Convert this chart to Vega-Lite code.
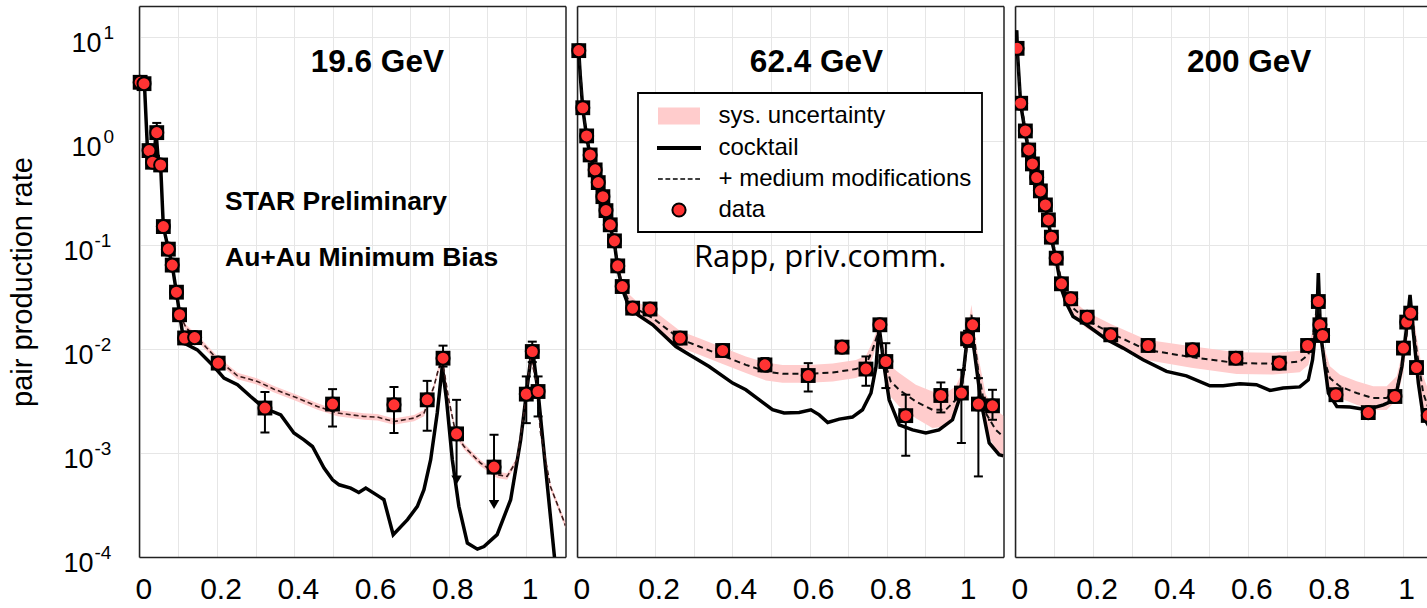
{
"$schema": "https://vega.github.io/schema/vega-lite/v6.json",
"background": "#ffffff",
"padding": {"left": 8, "top": 5, "right": 0, "bottom": 0},
"config": {
  "view": {"stroke": null},
  "font": "Liberation Sans",
  "axis": {"labelFont": "Liberation Sans", "labelColor": "#000000", "tickColor": "#222222", "tickWidth": 1.5, "domainColor": "#222222", "domainWidth": 1.5, "gridColor": "#e6e6e6", "gridWidth": 1, "labelOverlap": false, "labelFlush": false, "labelBound": false, "minExtent": 0}
},
"datasets": {
  "p1_cocktail": [{"x":0.001,"y":3.7},{"x":0.012,"y":3.6},{"x":0.02,"y":0.82},{"x":0.028,"y":0.64},{"x":0.037,"y":0.66},{"x":0.042,"y":1.25},{"x":0.047,"y":0.72},{"x":0.054,"y":0.59},{"x":0.061,"y":0.15},{"x":0.074,"y":0.092},{"x":0.084,"y":0.064},{"x":0.095,"y":0.035},{"x":0.1035,"y":0.0214},{"x":0.1146,"y":0.01143},{"x":0.149,"y":0.00984},{"x":0.192,"y":0.0068},{"x":0.218,"y":0.00526},{"x":0.253,"y":0.00454},{"x":0.287,"y":0.0035},{"x":0.322,"y":0.00271},{"x":0.365,"y":0.00233},{"x":0.399,"y":0.00156},{"x":0.425,"y":0.00134},{"x":0.447,"y":0.001156},{"x":0.477,"y":0.000718},{"x":0.499,"y":0.000553},{"x":0.516,"y":0.000495},{"x":0.546,"y":0.00046},{"x":0.567,"y":0.000418},{"x":0.585,"y":0.00046},{"x":0.619,"y":0.000383},{"x":0.632,"y":0.000356},{"x":0.656,"y":0.000164},{"x":0.693,"y":0.000229},{"x":0.7185,"y":0.000307},{"x":0.7356,"y":0.000444},{"x":0.753,"y":0.000863},{"x":0.77,"y":0.00243},{"x":0.783,"y":0.0068},{"x":0.794,"y":0.00325},{"x":0.809,"y":0.000863},{"x":0.826,"y":0.000307},{"x":0.848,"y":0.000136},{"x":0.874,"y":0.000119},{"x":0.891,"y":0.000126},{"x":0.925,"y":0.000164},{"x":0.96,"y":0.000356},{"x":0.986,"y":0.00134},{"x":1.003,"y":0.00437},{"x":1.016,"y":0.0106},{"x":1.033,"y":0.00325},{"x":1.05,"y":0.000744},{"x":1.074,"y":0.0000955}],
  "p1_medium": [{"x":0.104,"y":0.0214,"lo":0.0199,"hi":0.0229},{"x":0.12,"y":0.016,"lo":0.01488,"hi":0.01712},{"x":0.149,"y":0.0128,"lo":0.0119,"hi":0.0137},{"x":0.2025,"y":0.00789,"lo":0.00734,"hi":0.00844},{"x":0.253,"y":0.00553,"lo":0.00514,"hi":0.00592},{"x":0.3045,"y":0.00489,"lo":0.00455,"hi":0.00523},{"x":0.3475,"y":0.00412,"lo":0.00383,"hi":0.00441},{"x":0.408,"y":0.00338,"lo":0.00314,"hi":0.00362},{"x":0.46,"y":0.00281,"lo":0.00261,"hi":0.00301},{"x":0.5115,"y":0.00243,"lo":0.00226,"hi":0.0026},{"x":0.58,"y":0.00225,"lo":0.00209,"hi":0.00241},{"x":0.615,"y":0.00222,"lo":0.00206,"hi":0.00238},{"x":0.658,"y":0.00201,"lo":0.00187,"hi":0.00215},{"x":0.71,"y":0.00217,"lo":0.00202,"hi":0.00232},{"x":0.736,"y":0.00243,"lo":0.00226,"hi":0.0026},{"x":0.7615,"y":0.00437,"lo":0.00406,"hi":0.00468},{"x":0.772,"y":0.0062,"lo":0.00577,"hi":0.00663},{"x":0.783,"y":0.00789,"lo":0.00734,"hi":0.00844},{"x":0.8,"y":0.00325,"lo":0.00302,"hi":0.00348},{"x":0.8176,"y":0.00156,"lo":0.00145,"hi":0.00167},{"x":0.839,"y":0.00116,"lo":0.00108,"hi":0.00124},{"x":0.882,"y":0.000802,"lo":0.000746,"hi":0.000858},{"x":0.925,"y":0.000618,"lo":0.000575,"hi":0.000661},{"x":0.951,"y":0.000596,"lo":0.000554,"hi":0.000638},{"x":0.977,"y":0.000863,"lo":0.000803,"hi":0.000923},{"x":0.999,"y":0.00325,"lo":0.00302,"hi":0.00348},{"x":1.012,"y":0.0085,"lo":0.0079,"hi":0.0091},{"x":1.025,"y":0.00507,"lo":0.00472,"hi":0.00542},{"x":1.0375,"y":0.00156,"lo":0.00145,"hi":0.00167},{"x":1.063,"y":0.000477,"lo":0.000444,"hi":0.00051},{"x":1.098,"y":0.00022,"lo":0.000205,"hi":0.000235},{"x":1.102,"y":0.0002,"lo":0.000186,"hi":0.000214}],
  "p1_data": [{"x":0.001,"y":3.69,"lo":3.5,"hi":3.9,"ul":0},{"x":0.011,"y":3.58,"lo":3.4,"hi":3.8,"ul":0},{"x":0.024,"y":0.813,"lo":0.75,"hi":0.88,"ul":0},{"x":0.033,"y":0.628,"lo":0.58,"hi":0.68,"ul":0},{"x":0.044,"y":1.21,"lo":1.1,"hi":1.5,"ul":0},{"x":0.054,"y":0.591,"lo":0.55,"hi":0.64,"ul":0},{"x":0.061,"y":0.151,"lo":0.14,"hi":0.163,"ul":0},{"x":0.074,"y":0.0916,"lo":0.085,"hi":0.099,"ul":0},{"x":0.084,"y":0.0643,"lo":0.059,"hi":0.07,"ul":0},{"x":0.095,"y":0.0353,"lo":0.032,"hi":0.039,"ul":0},{"x":0.103,"y":0.0214,"lo":0.0196,"hi":0.0234,"ul":0},{"x":0.116,"y":0.0128,"lo":0.0116,"hi":0.014,"ul":0},{"x":0.142,"y":0.0129,"lo":0.0117,"hi":0.0142,"ul":0},{"x":0.203,"y":0.00733,"lo":0.0067,"hi":0.008,"ul":0},{"x":0.324,"y":0.00271,"lo":0.00158,"hi":0.00386,"ul":0},{"x":0.499,"y":0.00296,"lo":0.0018,"hi":0.00412,"ul":0},{"x":0.658,"y":0.00291,"lo":0.00156,"hi":0.00433,"ul":0},{"x":0.744,"y":0.00325,"lo":0.00164,"hi":0.00495,"ul":0},{"x":0.785,"y":0.00818,"lo":0.0068,"hi":0.0108,"ul":0},{"x":0.82,"y":0.00153,"lo":0.00055,"hi":0.00325,"ul":1},{"x":0.917,"y":0.000733,"lo":0.00032,"hi":0.0015,"ul":1},{"x":1.0005,"y":0.00369,"lo":0.00194,"hi":0.00546,"ul":0},{"x":1.016,"y":0.00948,"lo":0.0075,"hi":0.0118,"ul":0},{"x":1.031,"y":0.00391,"lo":0.00225,"hi":0.00546,"ul":0}],
  "p2_cocktail": [{"x":0.0026,"y":7.44},{"x":0.006,"y":4.5},{"x":0.013,"y":2.05},{"x":0.023,"y":1.1},{"x":0.032,"y":0.72},{"x":0.045,"y":0.51},{"x":0.053,"y":0.385},{"x":0.065,"y":0.28},{"x":0.073,"y":0.205},{"x":0.084,"y":0.15},{"x":0.095,"y":0.104},{"x":0.1035,"y":0.06},{"x":0.115,"y":0.038},{"x":0.13,"y":0.027},{"x":0.155,"y":0.0214},{"x":0.194,"y":0.01714},{"x":0.254,"y":0.0106},{"x":0.289,"y":0.00881},{"x":0.34,"y":0.0068},{"x":0.401,"y":0.00471},{"x":0.435,"y":0.00406},{"x":0.47,"y":0.00325},{"x":0.504,"y":0.00261},{"x":0.534,"y":0.00243},{"x":0.573,"y":0.00246},{"x":0.6035,"y":0.00261},{"x":0.625,"y":0.00233},{"x":0.647,"y":0.00197},{"x":0.677,"y":0.00212},{"x":0.711,"y":0.00222},{"x":0.737,"y":0.00261},{"x":0.759,"y":0.00378},{"x":0.772,"y":0.0068},{"x":0.78,"y":0.0165},{"x":0.793,"y":0.0068},{"x":0.806,"y":0.00325},{"x":0.832,"y":0.00187},{"x":0.8665,"y":0.00167},{"x":0.901,"y":0.00156},{"x":0.935,"y":0.00167},{"x":0.97,"y":0.00209},{"x":0.987,"y":0.00325},{"x":1.0,"y":0.0068},{"x":1.013,"y":0.0191},{"x":1.026,"y":0.00984},{"x":1.043,"y":0.00325},{"x":1.065,"y":0.00125},{"x":1.0905,"y":0.000964},{"x":1.102,"y":0.00094}],
  "p2_medium": [{"x":0.0026,"y":7.6,"lo":6.61,"hi":8.74},{"x":0.013,"y":2.15,"lo":1.87,"hi":2.47},{"x":0.023,"y":1.15,"lo":1.0,"hi":1.32},{"x":0.032,"y":0.75,"lo":0.652,"hi":0.8625},{"x":0.045,"y":0.53,"lo":0.461,"hi":0.61},{"x":0.053,"y":0.4,"lo":0.348,"hi":0.46},{"x":0.065,"y":0.29,"lo":0.252,"hi":0.334},{"x":0.073,"y":0.215,"lo":0.187,"hi":0.247},{"x":0.084,"y":0.157,"lo":0.1365,"hi":0.1806},{"x":0.095,"y":0.11,"lo":0.0957,"hi":0.1265},{"x":0.1035,"y":0.064,"lo":0.0557,"hi":0.0736},{"x":0.115,"y":0.041,"lo":0.0357,"hi":0.0472},{"x":0.13,"y":0.03,"lo":0.0261,"hi":0.0345},{"x":0.155,"y":0.024,"lo":0.0203,"hi":0.0283},{"x":0.194,"y":0.0199,"lo":0.01658,"hi":0.02388},{"x":0.265,"y":0.01247,"lo":0.01039,"hi":0.01496},{"x":0.3145,"y":0.0106,"lo":0.00883,"hi":0.01272},{"x":0.375,"y":0.00863,"lo":0.00719,"hi":0.01036},{"x":0.435,"y":0.00706,"lo":0.00588,"hi":0.00847},{"x":0.487,"y":0.0061,"lo":0.005,"hi":0.00744},{"x":0.53,"y":0.00578,"lo":0.00474,"hi":0.00705},{"x":0.5965,"y":0.00578,"lo":0.00474,"hi":0.00705},{"x":0.66,"y":0.00595,"lo":0.00488,"hi":0.00726},{"x":0.72,"y":0.00643,"lo":0.00527,"hi":0.00784},{"x":0.746,"y":0.00706,"lo":0.00579,"hi":0.00861},{"x":0.763,"y":0.00984,"lo":0.0082,"hi":0.0118},{"x":0.78,"y":0.01535,"lo":0.01335,"hi":0.01765},{"x":0.793,"y":0.00789,"lo":0.00607,"hi":0.01026},{"x":0.81,"y":0.00489,"lo":0.00349,"hi":0.00685},{"x":0.832,"y":0.00406,"lo":0.0028,"hi":0.00589},{"x":0.875,"y":0.00313,"lo":0.00216,"hi":0.00454},{"x":0.918,"y":0.00261,"lo":0.00174,"hi":0.00392},{"x":0.9527,"y":0.00261,"lo":0.0018,"hi":0.00378},{"x":0.9785,"y":0.00325,"lo":0.00241,"hi":0.00439},{"x":0.996,"y":0.00471,"lo":0.00362,"hi":0.00612},{"x":1.009,"y":0.01227,"lo":0.00982,"hi":0.01534},{"x":1.019,"y":0.0214,"lo":0.01712,"hi":0.02675},{"x":1.035,"y":0.0068,"lo":0.00504,"hi":0.00918},{"x":1.056,"y":0.00243,"lo":0.00162,"hi":0.00365},{"x":1.082,"y":0.00167,"lo":0.00108,"hi":0.00259},{"x":1.102,"y":0.00143,"lo":0.000894,"hi":0.00229}],
  "p2_data": [{"x":0.0026,"y":7.44,"lo":6.9,"hi":8.0},{"x":0.013,"y":2.1,"lo":1.95,"hi":2.26},{"x":0.023,"y":1.125,"lo":1.05,"hi":1.2},{"x":0.032,"y":0.738,"lo":0.69,"hi":0.79},{"x":0.045,"y":0.53,"lo":0.495,"hi":0.567},{"x":0.053,"y":0.4,"lo":0.374,"hi":0.428},{"x":0.065,"y":0.293,"lo":0.274,"hi":0.313},{"x":0.073,"y":0.215,"lo":0.2,"hi":0.23},{"x":0.084,"y":0.157,"lo":0.146,"hi":0.168},{"x":0.095,"y":0.11,"lo":0.102,"hi":0.118},{"x":0.1035,"y":0.0632,"lo":0.058,"hi":0.068},{"x":0.115,"y":0.04,"lo":0.037,"hi":0.043},{"x":0.142,"y":0.0248,"lo":0.0228,"hi":0.027},{"x":0.187,"y":0.0243,"lo":0.0222,"hi":0.0268},{"x":0.265,"y":0.01277,"lo":0.0114,"hi":0.0143},{"x":0.375,"y":0.0097,"lo":0.0086,"hi":0.011},{"x":0.4845,"y":0.00705,"lo":0.0061,"hi":0.0082},{"x":0.5965,"y":0.00557,"lo":0.00391,"hi":0.00733},{"x":0.684,"y":0.01045,"lo":0.0094,"hi":0.0116},{"x":0.746,"y":0.00643,"lo":0.00444,"hi":0.0085},{"x":0.782,"y":0.01714,"lo":0.0152,"hi":0.0195},{"x":0.7975,"y":0.0076,"lo":0.00422,"hi":0.0114},{"x":0.849,"y":0.00229,"lo":0.000942,"hi":0.00364},{"x":0.9398,"y":0.00358,"lo":0.00246,"hi":0.00478},{"x":0.993,"y":0.00378,"lo":0.00125,"hi":0.00632},{"x":1.009,"y":0.01256,"lo":0.0105,"hi":0.015},{"x":1.022,"y":0.01714,"lo":0.0152,"hi":0.0195},{"x":1.037,"y":0.00296,"lo":0.000596,"hi":0.00526},{"x":1.0735,"y":0.00285,"lo":0.00209,"hi":0.00406}],
  "p3_cocktail": [{"x":0.001,"y":9.0},{"x":0.0025,"y":11.7},{"x":0.0045,"y":7.0},{"x":0.0127,"y":2.25},{"x":0.0248,"y":1.2},{"x":0.0334,"y":0.8},{"x":0.043,"y":0.58},{"x":0.054,"y":0.43},{"x":0.0636,"y":0.32},{"x":0.0766,"y":0.235},{"x":0.0843,"y":0.168},{"x":0.092,"y":0.115},{"x":0.1045,"y":0.072},{"x":0.118,"y":0.038},{"x":0.13,"y":0.028},{"x":0.148,"y":0.0206},{"x":0.1826,"y":0.01714},{"x":0.234,"y":0.01247},{"x":0.2775,"y":0.01023},{"x":0.329,"y":0.00789},{"x":0.3896,"y":0.0061},{"x":0.441,"y":0.00553},{"x":0.5016,"y":0.00444},{"x":0.536,"y":0.00444},{"x":0.579,"y":0.00464},{"x":0.622,"y":0.00454},{"x":0.657,"y":0.004},{"x":0.691,"y":0.00423},{"x":0.734,"y":0.00433},{"x":0.756,"y":0.00507},{"x":0.767,"y":0.00789},{"x":0.778,"y":0.0191},{"x":0.782,"y":0.0538},{"x":0.7876,"y":0.01426},{"x":0.799,"y":0.0068},{"x":0.808,"y":0.00378},{"x":0.83,"y":0.0028},{"x":0.8637,"y":0.00278},{"x":0.907,"y":0.00261},{"x":0.95,"y":0.00291},{"x":0.98,"y":0.00325},{"x":0.998,"y":0.0068},{"x":1.0104,"y":0.0165},{"x":1.019,"y":0.0333},{"x":1.0277,"y":0.01426},{"x":1.0405,"y":0.00471},{"x":1.053,"y":0.00225},{"x":1.068,"y":0.0018}],
  "p3_medium": [{"x":0.0034,"y":8.2,"lo":7.32,"hi":9.18},{"x":0.0127,"y":2.45,"lo":2.19,"hi":2.74},{"x":0.0248,"y":1.32,"lo":1.18,"hi":1.48},{"x":0.0334,"y":0.87,"lo":0.777,"hi":0.974},{"x":0.043,"y":0.64,"lo":0.571,"hi":0.717},{"x":0.054,"y":0.47,"lo":0.42,"hi":0.526},{"x":0.0636,"y":0.35,"lo":0.3125,"hi":0.392},{"x":0.0766,"y":0.256,"lo":0.229,"hi":0.287},{"x":0.0843,"y":0.184,"lo":0.164,"hi":0.206},{"x":0.092,"y":0.125,"lo":0.1116,"hi":0.14},{"x":0.1045,"y":0.079,"lo":0.0705,"hi":0.0885},{"x":0.118,"y":0.045,"lo":0.0402,"hi":0.0504},{"x":0.13,"y":0.033,"lo":0.0287,"hi":0.038},{"x":0.148,"y":0.0248,"lo":0.021,"hi":0.0293},{"x":0.1826,"y":0.0191,"lo":0.0159,"hi":0.0229},{"x":0.2455,"y":0.01426,"lo":0.01169,"hi":0.0174},{"x":0.338,"y":0.00984,"lo":0.00787,"hi":0.0123},{"x":0.454,"y":0.00838,"lo":0.0066,"hi":0.01064},{"x":0.571,"y":0.00733,"lo":0.00577,"hi":0.00931},{"x":0.6655,"y":0.00724,"lo":0.0057,"hi":0.0092},{"x":0.734,"y":0.0076,"lo":0.00598,"hi":0.00965},{"x":0.756,"y":0.00881,"lo":0.00705,"hi":0.011},{"x":0.767,"y":0.01227,"lo":0.01023,"hi":0.01472},{"x":0.782,"y":0.0321,"lo":0.02675,"hi":0.0385},{"x":0.795,"y":0.0085,"lo":0.00654,"hi":0.01105},{"x":0.812,"y":0.00526,"lo":0.00405,"hi":0.00684},{"x":0.838,"y":0.00437,"lo":0.00336,"hi":0.00568},{"x":0.881,"y":0.00378,"lo":0.00291,"hi":0.00491},{"x":0.924,"y":0.00338,"lo":0.0026,"hi":0.00439},{"x":0.9586,"y":0.00338,"lo":0.0026,"hi":0.00439},{"x":0.9845,"y":0.00422,"lo":0.00325,"hi":0.00549},{"x":1.002,"y":0.00789,"lo":0.00607,"hi":0.01026},{"x":1.015,"y":0.0191,"lo":0.01528,"hi":0.02388},{"x":1.021,"y":0.0257,"lo":0.02056,"hi":0.0321},{"x":1.036,"y":0.00984,"lo":0.00729,"hi":0.01328},{"x":1.053,"y":0.00378,"lo":0.00261,"hi":0.00548},{"x":1.068,"y":0.00261,"lo":0.00174,"hi":0.00392}],
  "p3_data": [{"x":0.0034,"y":7.83,"lo":7.05,"hi":8.61},{"x":0.0127,"y":2.32,"lo":2.09,"hi":2.55},{"x":0.0248,"y":1.256,"lo":1.13,"hi":1.38},{"x":0.0334,"y":0.824,"lo":0.742,"hi":0.906},{"x":0.043,"y":0.605,"lo":0.545,"hi":0.666},{"x":0.054,"y":0.447,"lo":0.402,"hi":0.492},{"x":0.0636,"y":0.333,"lo":0.3,"hi":0.366},{"x":0.0766,"y":0.244,"lo":0.22,"hi":0.268},{"x":0.0843,"y":0.175,"lo":0.158,"hi":0.193},{"x":0.092,"y":0.1194,"lo":0.107,"hi":0.131},{"x":0.1045,"y":0.075,"lo":0.0675,"hi":0.0825},{"x":0.118,"y":0.0425,"lo":0.0383,"hi":0.0468},{"x":0.142,"y":0.0305,"lo":0.0275,"hi":0.0336},{"x":0.1844,"y":0.0203,"lo":0.0183,"hi":0.0223},{"x":0.2455,"y":0.01372,"lo":0.01235,"hi":0.01509},{"x":0.342,"y":0.01084,"lo":0.00976,"hi":0.01192},{"x":0.4568,"y":0.00984,"lo":0.00886,"hi":0.01082},{"x":0.5688,"y":0.00818,"lo":0.00736,"hi":0.009},{"x":0.681,"y":0.00733,"lo":0.0066,"hi":0.00806},{"x":0.7543,"y":0.01084,"lo":0.00976,"hi":0.01192},{"x":0.782,"y":0.0287,"lo":0.0258,"hi":0.0316},{"x":0.786,"y":0.01714,"lo":0.0154,"hi":0.0189},{"x":0.793,"y":0.01352,"lo":0.0122,"hi":0.0149},{"x":0.8275,"y":0.00364,"lo":0.00328,"hi":0.004},{"x":0.911,"y":0.00245,"lo":0.0022,"hi":0.0027},{"x":0.98,"y":0.0035,"lo":0.00315,"hi":0.00385},{"x":1.002,"y":0.01023,"lo":0.0092,"hi":0.01125},{"x":1.0104,"y":0.0182,"lo":0.0164,"hi":0.02},{"x":1.0207,"y":0.0222,"lo":0.02,"hi":0.0244},{"x":1.0357,"y":0.00665,"lo":0.006,"hi":0.0073},{"x":1.066,"y":0.0023,"lo":0.00207,"hi":0.00253}],
  "p1_title": [{"x":0.615,"y":4.59,"label":"19.6 GeV"}],
  "p1_notes": [{"x":0.2207,"y":0.2185,"label":"STAR Preliminary"},{"x":0.2207,"y":0.0637,"label":"Au+Au Minimum Bias"}],
  "p2_title": [{"x":0.6177,"y":4.59,"label":"62.4 GeV"}],
  "p2_notes": [{"x":0.3008,"y":0.0622,"label":"Rapp, priv.comm."}],
  "p3_title": [{"x":0.603,"y":4.59,"label":"200 GeV"}]
},
"spacing": 11,
"bounds": "flush",
"resolve": {"scale": {"x": "independent", "y": "independent", "color": "independent"}, "legend": {"color": "independent"}},
"hconcat": [
 {
  "width": 426.5, "height": 551,
  "resolve": {"axis": {"x": "independent", "y": "independent"}},
  "layer": [
   {"data": {"name": "p1_medium"}, "mark": {"type": "area", "color": "#ffcccc", "opacity": 1, "clip": true},
    "encoding": {
     "x": {"field": "x", "type": "quantitative", "scale": {"domain": [-0.002, 1.102], "nice": false, "zero": false},
       "axis": {"orient": "bottom", "title": null, "values": [0,0.1,0.2,0.3,0.4,0.5,0.6,0.7,0.8,0.9,1], "labelExpr": "round(datum.value*10)%2==0 ? (datum.value==0 ? '0' : datum.value==1 ? '1' : format(datum.value,'.1f')) : ''", "labelFontSize": 30, "labelBaseline": "alphabetic", "labelPadding": 41, "labelOffset": 3.5, "tickSize": 0, "grid": true,
         "encode": {"ticks": {"update": {"y2": {"signal": "round(datum.value*10)%2==0 ? -9 : -5"}}}, "grid": {"update": {"strokeOpacity": {"signal": "round(datum.value*10)%2==0 && datum.value > 0.01 ? 1 : 0"}}}}}},
     "y": {"field": "lo", "type": "quantitative", "scale": {"type": "log", "domain": [0.0001, 20], "nice": false},
       "axis": {"orient": "left", "values": [0.0001,0.0002,0.0003,0.0004,0.0005,0.0006,0.0007,0.0008,0.0009,0.001,0.002,0.003,0.004,0.005,0.006,0.007,0.008,0.009,0.01,0.02,0.03,0.04,0.05,0.06,0.07,0.08,0.09,0.1,0.2,0.3,0.4,0.5,0.6,0.7,0.8,0.9,1,2,3,4,5,6,7,8,9,10],
         "title": "pair production rate", "titleFont": "Liberation Sans", "titleFontSize": 29, "titleFontWeight": "normal", "titleColor": "#000000", "titlePadding": 33,
         "labelExpr": "datum.value == 1 || datum.value == 10 ? '10' : ''", "labelFontSize": 27, "labelAlign": "right", "labelBaseline": "alphabetic", "labelPadding": 38, "labelOffset": 14.5, "tickSize": 0, "grid": false,
         "encode": {"ticks": {"update": {"x2": {"signal": "indexof([0.0001,0.001,0.01,0.1,1,10], datum.value) >= 0 ? 9 : 5"}}}}}},
     "y2": {"field": "hi"}
    }},
   {"data": {"name": "p1_cocktail"}, "mark": {"type": "line", "color": "#000000", "strokeWidth": 3.5, "clip": true},
    "encoding": {
     "x": {"field": "x", "type": "quantitative",
       "axis": {"orient": "top", "title": null, "values": [0,0.1,0.2,0.3,0.4,0.5,0.6,0.7,0.8,0.9,1], "labels": false, "tickSize": 0, "grid": false,
         "encode": {"ticks": {"update": {"y2": {"signal": "round(datum.value*10)%2==0 ? 9 : 5"}}}}}},
     "y": {"field": "y", "type": "quantitative",
       "axis": {"orient": "left", "title": null, "values": [1, 10], "labelExpr": "datum.value == 10 ? '1' : '0'", "labelFontSize": 19, "labelAlign": "left", "labelBaseline": "alphabetic", "labelPadding": 36, "labelOffset": 1, "ticks": false, "domain": false, "grid": true}}
    }},
   {"data": {"name": "p1_medium"}, "mark": {"type": "line", "color": "#3a1c1c", "strokeWidth": 1.6, "strokeDash": [5, 3], "clip": true},
    "encoding": {
     "x": {"field": "x", "type": "quantitative", "axis": null},
     "y": {"field": "y", "type": "quantitative",
       "axis": {"orient": "right", "title": null, "values": [0.0001,0.0002,0.0003,0.0004,0.0005,0.0006,0.0007,0.0008,0.0009,0.001,0.002,0.003,0.004,0.005,0.006,0.007,0.008,0.009,0.01,0.02,0.03,0.04,0.05,0.06,0.07,0.08,0.09,0.1,0.2,0.3,0.4,0.5,0.6,0.7,0.8,0.9,1,2,3,4,5,6,7,8,9,10], "labels": false, "tickSize": 0, "grid": false,
         "encode": {"ticks": {"update": {"x2": {"signal": "indexof([0.0001,0.001,0.01,0.1,1,10], datum.value) >= 0 ? -9 : -5"}}}}}}
    }},
   {"data": {"name": "p1_data"}, "mark": {"type": "rule", "color": "#000000", "strokeWidth": 2, "clip": true},
    "encoding": {"x": {"field": "x", "type": "quantitative", "axis": null},
     "y": {"field": "lo", "type": "quantitative",
       "axis": {"orient": "left", "title": null, "values": [0.0001, 0.001, 0.01, 0.1], "labelExpr": "'10'", "labelFontSize": 27, "labelAlign": "right", "labelBaseline": "alphabetic", "labelPadding": 46, "labelOffset": 14.5, "ticks": false, "domain": false, "grid": true}},
     "y2": {"field": "hi"}}},
   {"data": {"name": "p1_data"}, "mark": {"type": "tick", "orient": "horizontal", "color": "#000000", "size": 9, "thickness": 2, "opacity": 1},
    "encoding": {"x": {"field": "x", "type": "quantitative", "axis": null},
     "y": {"field": "hi", "type": "quantitative",
       "axis": {"orient": "left", "title": null, "values": [0.0001, 0.001, 0.01, 0.1], "labelExpr": "datum.value == 0.1 ? '-1' : datum.value == 0.01 ? '-2' : datum.value == 0.001 ? '-3' : '-4'", "labelFontSize": 19, "labelAlign": "left", "labelBaseline": "alphabetic", "labelPadding": 45, "labelOffset": 1, "ticks": false, "domain": false, "grid": false}}}},
   {"data": {"name": "p1_data"}, "transform": [{"filter": "datum.ul == 0"}], "mark": {"type": "tick", "orient": "horizontal", "color": "#000000", "size": 9, "thickness": 2, "opacity": 1},
    "encoding": {"x": {"field": "x", "type": "quantitative", "axis": null}, "y": {"field": "lo", "type": "quantitative", "axis": null}}},
   {"data": {"name": "p1_data"}, "transform": [{"filter": "datum.ul == 1"}], "mark": {"type": "point", "shape": "triangle-down", "filled": true, "color": "#000000", "size": 110, "opacity": 1},
    "encoding": {"x": {"field": "x", "type": "quantitative", "axis": null}, "y": {"field": "lo", "type": "quantitative", "axis": null}}},
   {"data": {"name": "p1_data"}, "mark": {"type": "point", "shape": "square", "filled": true, "color": "#000000", "size": 220, "opacity": 1},
    "encoding": {"x": {"field": "x", "type": "quantitative", "axis": null}, "y": {"field": "y", "type": "quantitative", "axis": null}}},
   {"data": {"name": "p1_data"}, "mark": {"type": "point", "shape": "circle", "filled": true, "fill": "#ff3333", "stroke": "#000000", "strokeWidth": 2, "size": 170, "opacity": 1},
    "encoding": {"x": {"field": "x", "type": "quantitative", "axis": null}, "y": {"field": "y", "type": "quantitative", "axis": null}}},
   {"data": {"name": "p1_title"}, "mark": {"type": "text", "font": "Liberation Sans", "fontSize": 31.5, "fontWeight": "bold", "align": "center", "baseline": "alphabetic", "color": "#000000"},
    "encoding": {"x": {"field": "x", "type": "quantitative", "axis": null}, "y": {"field": "y", "type": "quantitative", "axis": null}, "text": {"field": "label"}}},
   {"data": {"name": "p1_notes"}, "mark": {"type": "text", "font": "Liberation Sans", "fontSize": 26.5, "fontWeight": "bold", "align": "left", "baseline": "alphabetic", "color": "#000000"},
    "encoding": {"x": {"field": "x", "type": "quantitative", "axis": null}, "y": {"field": "y", "type": "quantitative", "axis": null}, "text": {"field": "label"}}}
  ]
 },
 {
  "width": 426.5, "height": 551,
  "resolve": {"axis": {"x": "independent", "y": "independent"}},
  "layer": [
   {"data": {"name": "p2_medium"}, "mark": {"type": "area", "color": "#ffcccc", "opacity": 1, "clip": true},
    "encoding": {
     "x": {"field": "x", "type": "quantitative", "scale": {"domain": [-0.002, 1.102], "nice": false, "zero": false},
       "axis": {"orient": "bottom", "title": null, "values": [0,0.1,0.2,0.3,0.4,0.5,0.6,0.7,0.8,0.9,1], "labelExpr": "round(datum.value*10)%2==0 ? (datum.value==0 ? '0' : datum.value==1 ? '1' : format(datum.value,'.1f')) : ''", "labelFontSize": 30, "labelBaseline": "alphabetic", "labelPadding": 41, "labelOffset": 3.5, "tickSize": 0, "grid": true,
         "encode": {"ticks": {"update": {"y2": {"signal": "round(datum.value*10)%2==0 ? -9 : -5"}}}, "grid": {"update": {"strokeOpacity": {"signal": "round(datum.value*10)%2==0 && datum.value > 0.01 ? 1 : 0"}}}}}},
     "y": {"field": "lo", "type": "quantitative", "scale": {"type": "log", "domain": [0.0001, 20], "nice": false},
       "axis": {"orient": "left", "values": [0.0001,0.0002,0.0003,0.0004,0.0005,0.0006,0.0007,0.0008,0.0009,0.001,0.002,0.003,0.004,0.005,0.006,0.007,0.008,0.009,0.01,0.02,0.03,0.04,0.05,0.06,0.07,0.08,0.09,0.1,0.2,0.3,0.4,0.5,0.6,0.7,0.8,0.9,1,2,3,4,5,6,7,8,9,10], "title": null, "labels": false, "tickSize": 0, "grid": false,
         "encode": {"ticks": {"update": {"x2": {"signal": "indexof([0.0001,0.001,0.01,0.1,1,10], datum.value) >= 0 ? 9 : 5"}}}}}},
     "y2": {"field": "hi"}
    }},
   {"data": {"name": "p2_cocktail"}, "mark": {"type": "line", "strokeWidth": 3.5, "clip": true},
    "encoding": {
     "x": {"field": "x", "type": "quantitative",
       "axis": {"orient": "top", "title": null, "values": [0,0.1,0.2,0.3,0.4,0.5,0.6,0.7,0.8,0.9,1], "labels": false, "tickSize": 0, "grid": false,
         "encode": {"ticks": {"update": {"y2": {"signal": "round(datum.value*10)%2==0 ? 9 : 5"}}}}}},
     "y": {"field": "y", "type": "quantitative",
       "axis": {"orient": "left", "title": null, "values": [0.0001,0.001,0.01,0.1,1,10], "labels": false, "ticks": false, "domain": false, "grid": true}},
     "color": {"datum": "cocktail", "type": "nominal",
       "scale": {"domain": ["sys. uncertainty", "cocktail", "+ medium modifications", "data"], "range": ["transparent", "#000000", "transparent", "#000000"]},
       "legend": {"title": null, "orient": "none", "legendX": 61, "legendY": 87, "strokeColor": "#000000", "fillColor": "#ffffff", "padding": 10,
         "labelFont": "Liberation Sans", "labelFontSize": 24, "labelColor": "#000000", "labelOffset": 26.5, "labelLimit": 400, "symbolOffset": 18,
         "symbolSize": 576, "symbolStrokeWidth": 2, "rowPadding": 6,
         "encode": {
           "legend": {"update": {"strokeWidth": {"value": 1.8}}},
           "symbols": {"update": {
             "shape": {"signal": "datum.value === 'sys. uncertainty' ? 'M-1.75,-0.7H1.75V0.7H-1.75Z' : datum.value === 'cocktail' ? 'M-1.75,-0.08H1.75V0.08H-1.75Z' : datum.value === 'data' ? 'M-0.55,0A0.55,0.55,0,1,1,0.55,0A0.55,0.55,0,1,1,-0.55,0Z' : 'M-1.75,-0.065H-1.35V0.065H-1.75Z M-1.13,-0.065H-0.73V0.065H-1.13Z M-0.51,-0.065H-0.11V0.065H-0.51Z M0.11,-0.065H0.51V0.065H0.11Z M0.73,-0.065H1.13V0.065H0.73Z M1.35,-0.065H1.75V0.065H1.35Z'"},
             "fill": {"signal": "datum.value === 'sys. uncertainty' ? '#ffcccc' : datum.value === 'data' ? '#ff3333' : '#000000'"},
             "opacity": {"value": 1}
           }}
         }}}
    }},
   {"data": {"name": "p2_medium"}, "mark": {"type": "line", "color": "#111111", "strokeWidth": 2, "strokeDash": [6, 4], "clip": true},
    "encoding": {
     "x": {"field": "x", "type": "quantitative", "axis": null},
     "y": {"field": "y", "type": "quantitative",
       "axis": {"orient": "right", "title": null, "values": [0.0001,0.0002,0.0003,0.0004,0.0005,0.0006,0.0007,0.0008,0.0009,0.001,0.002,0.003,0.004,0.005,0.006,0.007,0.008,0.009,0.01,0.02,0.03,0.04,0.05,0.06,0.07,0.08,0.09,0.1,0.2,0.3,0.4,0.5,0.6,0.7,0.8,0.9,1,2,3,4,5,6,7,8,9,10], "labels": false, "tickSize": 0, "grid": false,
         "encode": {"ticks": {"update": {"x2": {"signal": "indexof([0.0001,0.001,0.01,0.1,1,10], datum.value) >= 0 ? -9 : -5"}}}}}}
    }},
   {"data": {"name": "p2_data"}, "mark": {"type": "rule", "color": "#000000", "strokeWidth": 2, "clip": true},
    "encoding": {"x": {"field": "x", "type": "quantitative", "axis": null}, "y": {"field": "lo", "type": "quantitative", "axis": null}, "y2": {"field": "hi"}}},
   {"data": {"name": "p2_data"}, "mark": {"type": "tick", "orient": "horizontal", "color": "#000000", "size": 9, "thickness": 2, "opacity": 1},
    "encoding": {"x": {"field": "x", "type": "quantitative", "axis": null}, "y": {"field": "hi", "type": "quantitative", "axis": null}}},
   {"data": {"name": "p2_data"}, "mark": {"type": "tick", "orient": "horizontal", "color": "#000000", "size": 9, "thickness": 2, "opacity": 1},
    "encoding": {"x": {"field": "x", "type": "quantitative", "axis": null}, "y": {"field": "lo", "type": "quantitative", "axis": null}}},
   {"data": {"name": "p2_data"}, "mark": {"type": "point", "shape": "square", "filled": true, "color": "#000000", "size": 220, "opacity": 1},
    "encoding": {"x": {"field": "x", "type": "quantitative", "axis": null}, "y": {"field": "y", "type": "quantitative", "axis": null}}},
   {"data": {"name": "p2_data"}, "mark": {"type": "point", "shape": "circle", "filled": true, "fill": "#ff3333", "stroke": "#000000", "strokeWidth": 2, "size": 170, "opacity": 1},
    "encoding": {"x": {"field": "x", "type": "quantitative", "axis": null}, "y": {"field": "y", "type": "quantitative", "axis": null}}},
   {"data": {"name": "p2_title"}, "mark": {"type": "text", "font": "Liberation Sans", "fontSize": 31.5, "fontWeight": "bold", "align": "center", "baseline": "alphabetic", "color": "#000000"},
    "encoding": {"x": {"field": "x", "type": "quantitative", "axis": null}, "y": {"field": "y", "type": "quantitative", "axis": null}, "text": {"field": "label"}}},
   {"data": {"name": "p2_notes"}, "mark": {"type": "text", "font": "Open Sans", "fontSize": 31, "align": "left", "baseline": "alphabetic", "color": "#000000"},
    "encoding": {"x": {"field": "x", "type": "quantitative", "axis": null}, "y": {"field": "y", "type": "quantitative", "axis": null}, "text": {"field": "label"}}}
  ]
 },
 {
  "width": 414, "height": 551,
  "resolve": {"axis": {"x": "independent", "y": "independent"}},
  "layer": [
   {"data": {"name": "p3_medium"}, "mark": {"type": "area", "color": "#ffcccc", "opacity": 1, "clip": true},
    "encoding": {
     "x": {"field": "x", "type": "quantitative", "scale": {"domain": [-0.002, 1.068], "nice": false, "zero": false},
       "axis": {"orient": "bottom", "title": null, "values": [0,0.1,0.2,0.3,0.4,0.5,0.6,0.7,0.8,0.9,1], "labelExpr": "round(datum.value*10)%2==0 ? (datum.value==0 ? '0' : datum.value==1 ? '1' : format(datum.value,'.1f')) : ''", "labelFontSize": 30, "labelBaseline": "alphabetic", "labelPadding": 41, "labelOffset": 3.5, "tickSize": 0, "grid": true,
         "encode": {"ticks": {"update": {"y2": {"signal": "round(datum.value*10)%2==0 ? -9 : -5"}}}, "grid": {"update": {"strokeOpacity": {"signal": "round(datum.value*10)%2==0 && datum.value > 0.01 ? 1 : 0"}}}}}},
     "y": {"field": "lo", "type": "quantitative", "scale": {"type": "log", "domain": [0.0001, 20], "nice": false},
       "axis": {"orient": "left", "values": [0.0001,0.0002,0.0003,0.0004,0.0005,0.0006,0.0007,0.0008,0.0009,0.001,0.002,0.003,0.004,0.005,0.006,0.007,0.008,0.009,0.01,0.02,0.03,0.04,0.05,0.06,0.07,0.08,0.09,0.1,0.2,0.3,0.4,0.5,0.6,0.7,0.8,0.9,1,2,3,4,5,6,7,8,9,10], "title": null, "labels": false, "tickSize": 0, "grid": false,
         "encode": {"ticks": {"update": {"x2": {"signal": "indexof([0.0001,0.001,0.01,0.1,1,10], datum.value) >= 0 ? 9 : 5"}}}}}},
     "y2": {"field": "hi"}
    }},
   {"data": {"name": "p3_cocktail"}, "mark": {"type": "line", "color": "#000000", "strokeWidth": 3.5, "clip": true},
    "encoding": {
     "x": {"field": "x", "type": "quantitative",
       "axis": {"orient": "top", "title": null, "values": [0,0.1,0.2,0.3,0.4,0.5,0.6,0.7,0.8,0.9,1], "labels": false, "tickSize": 0, "grid": false,
         "encode": {"ticks": {"update": {"y2": {"signal": "round(datum.value*10)%2==0 ? 9 : 5"}}}}}},
     "y": {"field": "y", "type": "quantitative",
       "axis": {"orient": "left", "title": null, "values": [0.0001,0.001,0.01,0.1,1,10], "labels": false, "ticks": false, "domain": false, "grid": true}}
    }},
   {"data": {"name": "p3_medium"}, "mark": {"type": "line", "color": "#111111", "strokeWidth": 2, "strokeDash": [6, 4], "clip": true},
    "encoding": {"x": {"field": "x", "type": "quantitative", "axis": null}, "y": {"field": "y", "type": "quantitative", "axis": null}}},
   {"data": {"name": "p3_data"}, "mark": {"type": "rule", "color": "#000000", "strokeWidth": 2, "clip": true},
    "encoding": {"x": {"field": "x", "type": "quantitative", "axis": null}, "y": {"field": "lo", "type": "quantitative", "axis": null}, "y2": {"field": "hi"}}},
   {"data": {"name": "p3_data"}, "mark": {"type": "point", "shape": "square", "filled": true, "color": "#000000", "size": 220, "opacity": 1, "clip": true},
    "encoding": {"x": {"field": "x", "type": "quantitative", "axis": null}, "y": {"field": "y", "type": "quantitative", "axis": null}}},
   {"data": {"name": "p3_data"}, "mark": {"type": "point", "shape": "circle", "filled": true, "fill": "#ff3333", "stroke": "#000000", "strokeWidth": 2, "size": 170, "opacity": 1, "clip": true},
    "encoding": {"x": {"field": "x", "type": "quantitative", "axis": null}, "y": {"field": "y", "type": "quantitative", "axis": null}}},
   {"data": {"name": "p3_title"}, "mark": {"type": "text", "font": "Liberation Sans", "fontSize": 31.5, "fontWeight": "bold", "align": "center", "baseline": "alphabetic", "color": "#000000"},
    "encoding": {"x": {"field": "x", "type": "quantitative", "axis": null}, "y": {"field": "y", "type": "quantitative", "axis": null}, "text": {"field": "label"}}}
  ]
 }
]
}
